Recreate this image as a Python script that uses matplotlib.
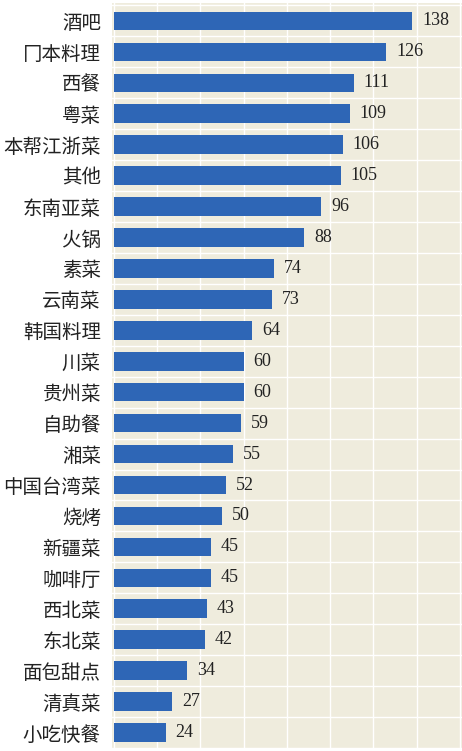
import matplotlib
matplotlib.use('Agg')
import matplotlib.pyplot as plt
import numpy as np

# --- dados ---
categorias = ['酒吧', '冂本料理', '西餐', '粤菜', '本帮江浙菜', '其他', '东南亚菜', '火锅',
              '素菜', '云南菜', '韩国料理', '川菜', '贵州菜', '自助餐', '湘菜', '中国台湾菜',
              '烧烤', '新疆菜', '咖啡厅', '西北菜', '东北菜', '面包甜点', '清真菜', '小吃快餐']
valores = [138, 126, 111, 109, 106, 105, 96, 88, 74, 73, 64, 60, 60, 59, 55, 52,
           50, 45, 45, 43, 42, 34, 27, 24]

cor_barra = '#2E66B6'
cor_fundo = '#EFECDD'

fig = plt.figure(figsize=(4.62, 7.51), dpi=100)
ax = fig.add_axes([112 / 462, 1 - 748 / 751, 1 - 112 / 462, 745 / 751])
ax.set_facecolor(cor_fundo)

y = np.arange(len(categorias))
barras = ax.barh(y, valores, height=0.6, color=cor_barra, zorder=3)

ax.set_xlim(-0.9, 161)
ax.set_ylim(len(categorias) - 0.5, -0.58)

ax.set_yticks(y)
ax.set_yticklabels(categorias, family=['Noto Sans CJK SC', 'DejaVu Sans'], fontsize=14, color='#222222')
ax.tick_params(axis='y', length=0, pad=8)
ax.set_xticks(np.arange(0, 161, 20))
ax.tick_params(axis='x', length=0, labelbottom=False)
ax.set_yticks(np.arange(-0.5, len(categorias), 1), minor=True)
ax.tick_params(axis='y', which='minor', length=0)

ax.grid(axis='x', which='major', color='white', linewidth=1.0, zorder=0)
ax.grid(axis='y', which='minor', color='white', linewidth=1.0, zorder=0)

for s in ax.spines.values():
    s.set_visible(False)

rotulos = ax.bar_label(barras, labels=[str(v) for v in valores], padding=7,
                       fontsize=13, family='Liberation Serif', color='#222222')

fig.savefig('out.png', dpi=100)
